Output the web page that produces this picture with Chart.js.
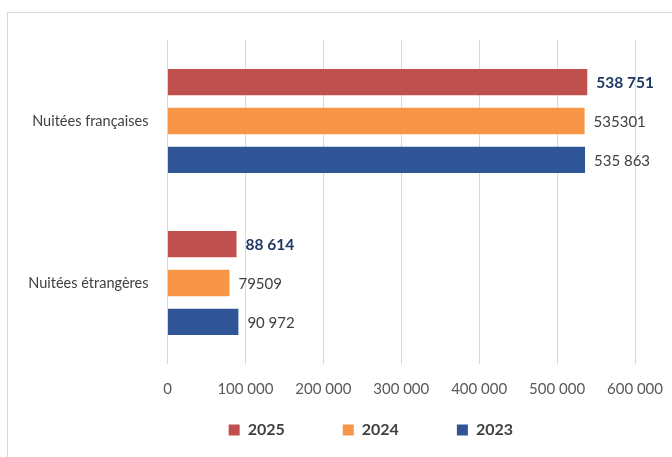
<!DOCTYPE html>
<html><head><meta charset="utf-8">
<script src="https://cdn.jsdelivr.net/npm/chart.js@4"></script>
<style>
html,body{margin:0;padding:0;background:#fff;}
#wrap{position:absolute;left:0;top:0;width:672px;height:457px;overflow:hidden;}
#frame{position:absolute;left:7px;top:12px;width:700px;height:500px;border:1px solid #d9d9d9;}
canvas{position:absolute;left:0;top:0;}
</style></head>
<body>
<div id="wrap"><div id="frame"></div><canvas id="c" width="672" height="457"></canvas></div>
<script>
const categories = ["Nuitées françaises", "Nuitées étrangères"];
const seriesNames = ["2025", "2024", "2023"];
const values2025 = [538751, 88614];
const values2024 = [535301, 79509];
const values2023 = [535863, 90972];
const labels2025 = ["538 751", "88 614"];
const labels2024 = ["535301", "79509"];
const labels2023 = ["535 863", "90 972"];
const xTicks = [0, 100000, 200000, 300000, 400000, 500000, 600000];
const colors = ["#C0504D", "#F79646", "#2F5597"];

const valueLabels = [labels2025, labels2024, labels2023];
const FONT = "Lato, 'Open Sans', sans-serif";

const labelPlugin = {
  id: 'valLabels',
  afterDatasetsDraw(chart) {
    const ctx = chart.ctx;
    chart.data.datasets.forEach((ds, di) => {
      const meta = chart.getDatasetMeta(di);
      meta.data.forEach((el, i) => {
        ctx.save();
        if (di === 0) {
          ctx.font = "bold 15.5px " + FONT;
          ctx.fillStyle = "#1F3864";
        } else {
          ctx.font = "15px " + FONT;
          ctx.fillStyle = "#404040";
        }
        ctx.textAlign = "left";
        ctx.textBaseline = "middle";
        ctx.fillText(valueLabels[di][i], el.x + 9, el.y + 1);
        ctx.restore();
      });
    });
  }
};

const GAP = "\u2002\u2002\u2002\u2002\u2002\u2002\u2009";
const TAIL = "\u2002\u2002\u2002\u2002\u2002\u2002\u2002\u2002";

new Chart(document.getElementById('c'), {
  type: 'bar',
  data: {
    labels: categories,
    datasets: [
      { label: seriesNames[0], data: values2025, backgroundColor: colors[0] },
      { label: seriesNames[1], data: values2024, backgroundColor: colors[1] },
      { label: seriesNames[2], data: values2023, backgroundColor: colors[2] }
    ]
  },
  options: {
    indexAxis: 'y',
    responsive: false,
    animation: false,
    categoryPercentage: 0.72,
    barPercentage: 0.68,
    layout: { padding: { left: 10, right: 37, top: 40, bottom: 9 } },
    scales: {
      x: {
        min: 0, max: 600000,
        afterBuildTicks(scale) { scale.ticks = xTicks.map(v => ({ value: v })); },
        afterFit(scale) { scale.paddingLeft = 0; scale.paddingRight = 0; },
        grid: { color: "#d9d9d9", drawTicks: false },
        border: { display: false },
        ticks: {
          padding: 16,
          color: "#595959",
          font: { family: FONT, size: 15 },
          callback: v => String(v).replace(/\B(?=(\d{3})+(?!\d))/g, " ")
        }
      },
      y: {
        grid: { display: false, drawTicks: false },
        border: { display: false },
        afterFit(scale) { scale.width = 157.5; },
        ticks: {
          padding: 19,
          color: "#404040",
          font: { family: FONT, size: 14.5 }
        }
      }
    },
    plugins: {
      tooltip: { enabled: false },
      legend: {
        position: 'bottom',
        align: 'end',
        labels: {
          boxWidth: 11, boxHeight: 11,
          padding: 8,
          color: "#404040",
          font: { family: FONT, size: 16, weight: 'bold' },
          generateLabels(chart) {
            const items = Chart.defaults.plugins.legend.labels.generateLabels(chart);
            items.forEach((it, i) => {
              it.text = it.text + GAP + (i === items.length - 1 ? TAIL : "");
              it.lineWidth = 0;
            });
            return items;
          }
        }
      }
    }
  },
  plugins: [labelPlugin]
});
</script>
</body></html>
